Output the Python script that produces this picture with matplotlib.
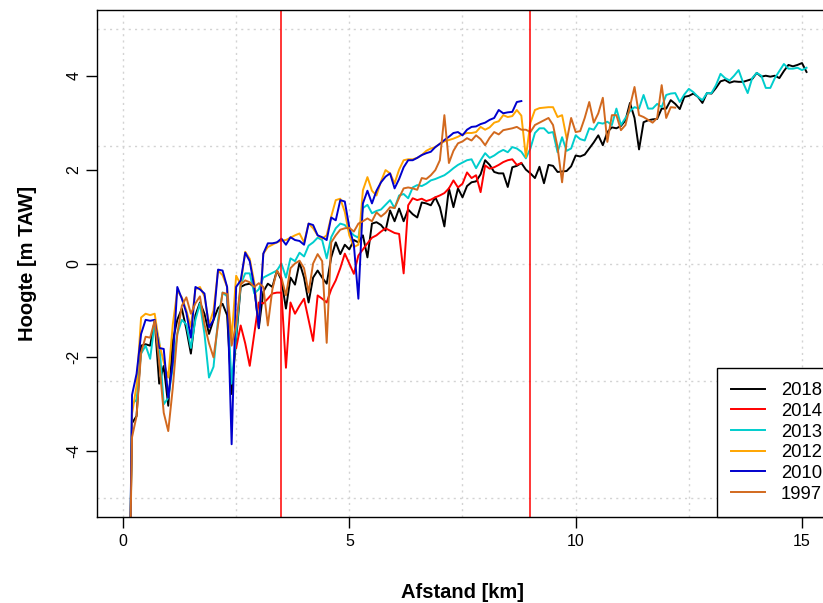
#!/usr/bin/env python3

# Hoogteprofiel langs de as: vergelijking van de opmetingen per jaar

import numpy as np
import matplotlib
matplotlib.use("Agg")
import matplotlib.pyplot as plt

plt.rcParams["font.family"] = ["Liberation Sans", "DejaVu Sans"]

# profielen: eerste punt ligt net naast de oever (onder de grafiek),
# daarna om de 100 m vanaf de start-afstand
STEP = 0.1
FIRST_X = 0.16
FIRST_Y = -6.0

years = ["2018", "2014", "2013", "2012", "2010", "1997"]
colors = ["black", "#FF0000", "#00CDCD", "#FFA500", "#0000CD", "#D2691E"]
start_km = [0.2, 2.5, 0.2, 0.2, 0.2, 0.2]
has_bank_point = [True, False, True, True, True, True]

h2018 = [
    -3.4, -3.25, -1.75, -1.72, -1.75, -1.22, -2.56, -2.18, -3.03, -1.65,
    -1.2, -0.96, -1.4, -1.92, -1.1, -0.83, -1.07, -1.5, -1.2, -0.95,
    -0.86, -1.1, -2.78, -1.6, -0.5, -0.45, -0.43, -0.5, -1.38, -0.6,
    -0.43, -0.5, -0.15, -0.35, -0.96, -0.3, -0.45, 0.02, -0.3, -0.83,
    -0.3, -0.15, -0.3, -0.43, 0.13, 0.45, 0.2, 0.4, 0.3, 0.5,
    0.45, 0.6, 0.13, 0.85, 0.88, 0.82, 0.7, 1.13, 0.9, 1.17,
    0.9, 1.15, 1.05, 0.98, 1.3, 1.28, 1.24, 1.41, 1.2, 0.79,
    1.6, 1.2, 1.6, 1.41, 1.65, 1.73, 1.75, 1.9, 2.2, 2.1,
    1.95, 1.92, 1.92, 1.63, 2.05, 2.08, 2.14, 2.0, 1.92, 1.82,
    2.06, 1.71, 2.1, 2.08, 1.95, 1.96, 1.97, 2.07, 2.3, 2.28,
    2.32, 2.45, 2.58, 2.73, 2.52, 2.8, 2.9, 2.88, 2.93, 3.05,
    3.42, 3.1, 2.43, 3.01, 3.05, 3.07, 3.08, 3.3, 3.3, 3.48,
    3.4, 3.29, 3.55, 3.57, 3.62, 3.55, 3.42, 3.63, 3.62, 3.74,
    3.88, 3.91, 3.85, 3.88, 3.87, 3.87, 3.9, 3.93, 4.06, 3.98,
    4.0, 3.98, 4.0, 3.95, 4.1, 4.23, 4.2, 4.23, 4.27, 4.08,
]

h2014 = [
    -1.8, -1.32, -1.7, -2.18, -1.5, -0.83, -0.85, -0.75, -0.64, -0.62,
    -0.62, -2.22, -0.83, -1.07, -0.9, -0.75, -1.2, -1.65, -0.68, -0.75,
    -0.83, -0.55, -0.36, -0.1, 0.21, 0.0, -0.22, 0.17, 0.3, 0.43,
    0.55, 0.6, 0.68, 0.75, 0.7, 0.65, 0.63, -0.21, 1.24, 1.39,
    1.35, 1.38, 1.33, 1.36, 1.41, 1.45, 1.5, 1.6, 1.77, 1.62,
    1.7, 1.94, 1.82, 1.88, 1.52, 2.09, 2.02, 2.05, 2.1, 2.16,
    2.2, 2.22, 2.1, 2.14,
]

h2013 = [
    -3.0, -2.9, -1.92, -1.75, -2.03, -1.26, -1.65, -3.0, -2.86, -2.2,
    -1.5, -1.2, -1.3, -1.8, -1.2, -0.85, -1.5, -2.43, -2.2, -1.2,
    -0.62, -0.7, -2.56, -1.5, -0.45, -0.21, -0.21, -0.64, -0.55, -0.3,
    -0.25, -0.2, -0.15, 0.0, -0.3, 0.11, 0.05, 0.23, 0.15, 0.38,
    0.45, 0.55, 0.5, 0.11, 0.56, 0.75, 0.85, 0.82, 0.7, 0.6,
    0.55, 1.18, 1.25, 1.07, 1.12, 1.15, 1.25, 1.35, 1.18, 1.45,
    1.48, 1.39, 1.62, 1.67, 1.65, 1.7, 1.77, 1.8, 1.84, 1.88,
    1.95, 2.03, 2.1, 2.15, 2.2, 2.22, 2.03, 2.2, 2.35, 2.25,
    2.3, 2.37, 2.42, 2.37, 2.48, 2.45, 2.38, 2.24, 2.45, 2.78,
    2.88, 2.88, 2.78, 2.8, 2.37, 2.69, 2.4, 2.45, 2.73, 2.65,
    2.62, 2.88, 2.85, 3.0, 2.98, 3.02, 2.95, 3.3, 2.95, 3.1,
    3.25, 3.33, 3.3, 3.59, 3.3, 3.3, 3.4, 3.33, 3.59, 3.62,
    3.63, 3.44, 3.6, 3.72, 3.65, 3.55, 3.48, 3.63, 3.63, 3.8,
    4.04, 3.95, 3.9, 4.0, 4.12, 3.85, 3.63, 3.95, 4.06, 4.0,
    3.74, 3.74, 3.95, 4.1, 4.25, 4.15, 4.15, 4.17, 4.12, 4.17,
]

h2012 = [
    -3.2, -2.6, -1.15, -1.07, -1.1, -1.07, -1.7, -2.1, -2.43, -1.3,
    -0.58, -0.72, -1.0, -1.35, -0.55, -0.5, -0.7, -1.3, -1.0, -0.15,
    -0.25, -0.5, -1.6, -0.26, -0.45, 0.25, 0.1, -0.4, -1.3, 0.21,
    0.35, 0.4, 0.45, 0.49, 0.5, 0.55, 0.6, 0.64, 0.45, 0.85,
    0.75, 0.6, 0.53, 0.6, 1.0, 1.35, 1.38, 1.1, 0.6, 0.35,
    0.4, 1.56, 1.84, 1.55, 1.45, 1.75, 1.99, 1.92, 1.71, 2.0,
    2.2, 2.22, 2.22, 2.25, 2.31, 2.4, 2.45, 2.48, 2.55, 2.6,
    2.63, 2.66, 2.7, 2.75, 2.78, 2.78, 2.8, 2.91, 2.85, 2.9,
    3.0, 3.03, 3.16, 3.12, 3.14, 3.27, 3.15, 2.27, 3.0, 3.27,
    3.31, 3.32, 3.33, 3.33, 3.12, 3.16, 2.67,
]

h2010 = [
    -2.8, -2.35, -1.5, -1.2, -1.22, -1.2, -1.8, -1.82, -2.86, -2.1,
    -0.5, -0.75, -1.05, -1.58, -0.5, -0.55, -0.64, -1.36, -1.2, -0.13,
    -0.15, -0.5, -3.85, -0.5, -0.36, 0.23, 0.05, -0.5, -1.37, 0.21,
    0.43, 0.43, 0.45, 0.53, 0.4, 0.56, 0.5, 0.48, 0.4, 0.85,
    0.82, 0.6, 0.56, 0.5, 0.98, 0.92, 1.35, 1.32, 0.77, 0.4,
    -0.75, 1.28, 1.55, 1.28, 1.55, 1.73, 1.85, 1.92, 1.6, 1.8,
    2.05, 2.2, 2.2, 2.25, 2.31, 2.35, 2.38, 2.48, 2.55, 2.63,
    2.7, 2.78, 2.8, 2.73, 2.85, 2.91, 2.92, 2.97, 3.0, 3.06,
    3.1, 3.27, 3.2, 3.22, 3.23, 3.44, 3.46,
]

h1997 = [
    -3.7, -3.25, -1.9, -1.56, -1.58, -1.22, -2.1, -3.18, -3.57, -2.65,
    -1.5, -0.9, -0.72, -1.07, -0.85, -0.7, -1.3, -1.7, -2.0, -1.3,
    -0.62, -0.65, -1.75, -1.3, -0.45, -0.36, -0.4, -0.5, -0.42, -0.5,
    -1.32, -0.55, -0.15, -0.3, -0.68, -0.1, 0.0, 0.06, -0.1, -0.62,
    0.0, 0.2, 0.05, -1.69, 0.45, 0.6, 0.72, 0.75, 0.76, 0.68,
    0.85, 0.9, 0.96, 0.9, 1.09, 1.0, 1.08, 1.2, 1.18, 1.4,
    1.6, 1.62, 1.6, 1.57, 1.82, 1.8, 1.88, 1.99, 2.2, 3.16,
    2.14, 2.4, 2.56, 2.6, 2.67, 2.62, 2.73, 2.65, 2.52, 2.68,
    2.8, 2.75, 2.84, 2.86, 2.88, 2.91, 2.85, 2.85, 2.8, 2.95,
    3.0, 3.05, 3.1, 2.95, 2.48, 1.73, 2.6, 3.1, 2.8, 2.82,
    3.1, 3.44, 3.0, 3.2, 3.53, 2.59, 3.16, 3.16, 2.84, 2.95,
    3.35, 3.76, 3.16, 3.12, 3.06, 3.0, 3.1, 3.8, 3.1, 3.33,
    3.32,
]

profiles = [h2018, h2014, h2013, h2012, h2010, h1997]

# zones afgebakend met verticale lijnen
zone_km = [3.5, 9.0]

xticks = [0, 5, 10, 15]
yticks = [-4, -2, 0, 2, 4]
xgrid = [0, 2.5, 5, 7.5, 10, 12.5, 15]
ygrid = [-5, -2.5, 0, 2.5, 5]


fig = plt.figure(figsize=(8.23, 6.03), dpi=100)
ax = fig.add_axes([97 / 823, 1 - 517 / 603, (826 - 97) / 823, (517 - 10) / 603])

# dotted grid like R's grid()
for gx in xgrid:
    ax.axvline(gx, color="#D3D3D3", lw=1, ls=(0, (1.5, 3)), zorder=0)
for gy in ygrid:
    ax.axhline(gy, color="#D3D3D3", lw=1, ls=(0, (1.5, 3)), zorder=0)

for year, col, x0, bank, h in zip(years, colors, start_km, has_bank_point, profiles):
    x = np.round(x0 + STEP * np.arange(len(h)), 2)
    y = np.array(h)
    if bank:
        x = np.concatenate([[FIRST_X], x])
        y = np.concatenate([[FIRST_Y], y])
    ax.plot(x, y, color=col, lw=1.4, label=year)

for zx in zone_km:
    ax.axvline(zx, color="red", lw=1.1)

ax.set_xlim(-0.574, 15.53)
ax.set_ylim(-5.4, 5.4)
ax.set_xticks(xticks)
ax.set_yticks(yticks)
ax.set_xticklabels([str(v) for v in xticks])
ax.set_yticklabels([str(v) for v in yticks])
ax.tick_params(axis="both", direction="out", length=8, width=1, labelsize=11.5)
ax.tick_params(axis="x", pad=4.5)
ax.tick_params(axis="y", labelrotation=90, pad=3)
for lab in ax.get_yticklabels():
    lab.set_va("center")
for sp in ax.spines.values():
    sp.set_linewidth(1)

fig.text(462 / 823, 1 - 592 / 603, "Afstand [km]", ha="center", va="center",
         fontsize=14.5, fontweight="bold")
fig.text(28 / 823, 1 - 263 / 603, "Hoogte [m TAW]", ha="center", va="center",
         rotation=90, fontsize=14.5, fontweight="bold")

leg = ax.legend(loc="lower left", bbox_to_anchor=(717 / 823, 1 - 516.5 / 603),
                bbox_transform=fig.transFigure, borderaxespad=0, fontsize=13.3,
                frameon=True, fancybox=False, edgecolor="black", framealpha=1,
                handlelength=1.85, handletextpad=0.85, labelspacing=0.2,
                borderpad=0.75)
leg.get_frame().set_linewidth(1)

fig.savefig("out.png", dpi=100)
